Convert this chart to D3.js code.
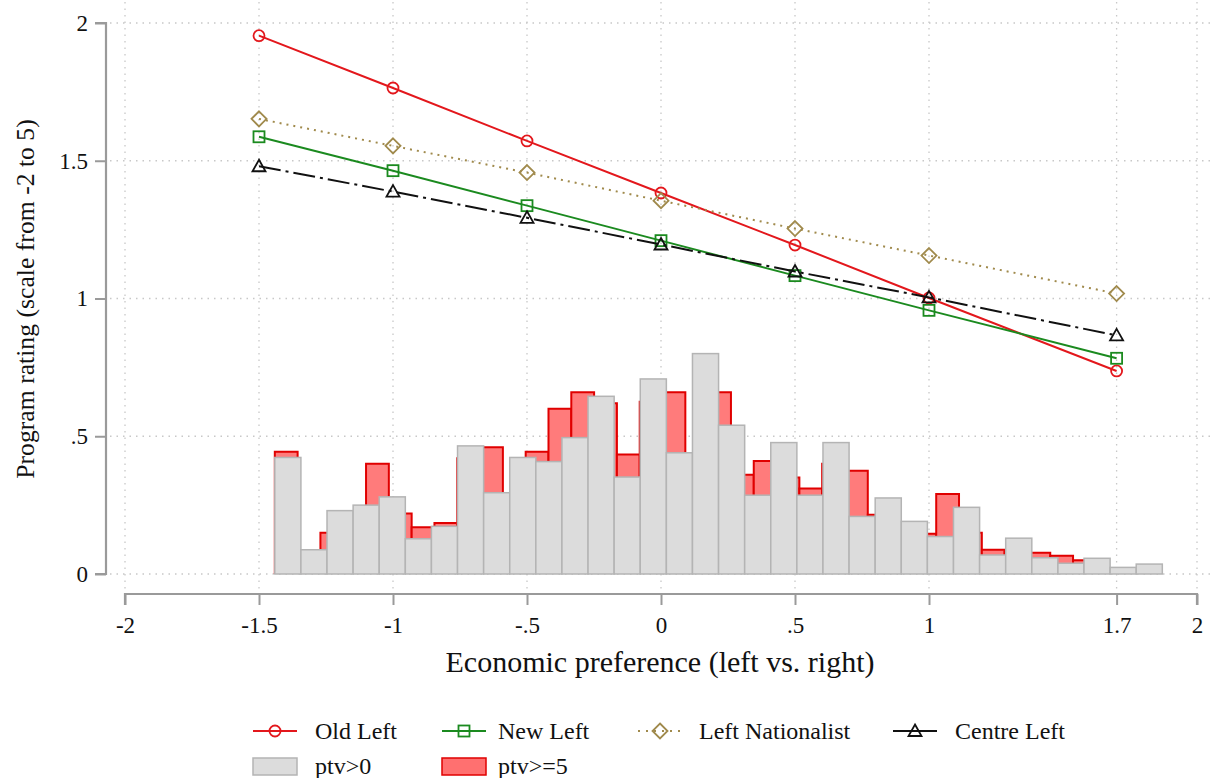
<!DOCTYPE html>
<html>
<head>
<meta charset="utf-8">
<script src="https://cdn.jsdelivr.net/npm/d3@7"></script>
<style>
  body { margin: 0; background: #fff; }
  svg text { font-family: "Liberation Serif", "Times New Roman", serif; fill: #111; }
</style>
</head>
<body>
<svg id="chart" width="1213" height="778"></svg>
<script>
// economic preference points where the lines are evaluated
var xPoints = [-1.5, -1, -0.5, 0, 0.5, 1, 1.7];
var oldLeft = [1.954, 1.764, 1.572, 1.383, 1.194, 1.002, 0.737];
var newLeft = [1.587, 1.464, 1.337, 1.210, 1.083, 0.957, 0.783];
var leftNationalist = [1.652, 1.554, 1.457, 1.355, 1.254, 1.156, 1.018];
var centreLeft = [1.480, 1.388, 1.293, 1.196, 1.098, 1.004, 0.866];

// histogram ptv>0 (density)
var grayStart = -1.441, grayWidth = 0.0974;
var grayDensity = [0.423, 0.088, 0.23, 0.25, 0.28, 0.128, 0.173, 0.465, 0.295, 0.423,
    0.408, 0.495, 0.645, 0.352, 0.708, 0.44, 0.80, 0.54, 0.286, 0.477,
    0.286, 0.477, 0.209, 0.276, 0.191, 0.136, 0.242, 0.069, 0.13, 0.059,
    0.039, 0.057, 0.024, 0.036];

// histogram ptv>=5 (density)
var redStart = -1.441, redWidth = 0.0851;
var redDensity = [0.444, 0.07, 0.15, 0.2, 0.40, 0.22, 0.17, 0.185, 0.42, 0.46,
    0.28, 0.444, 0.60, 0.66, 0.62, 0.434, 0.625, 0.66, 0.40, 0.66,
    0.36, 0.41, 0.35, 0.31, 0.40, 0.375, 0.215, 0.17, 0.146, 0.29,
    0.15, 0.088, 0.08, 0.077, 0.066, 0.05];

var xTicks = [-2, -1.5, -1, -0.5, 0, 0.5, 1, 1.7, 2];
var xTickLabels = ['-2', '-1.5', '-1', '-.5', '0', '.5', '1', '1.7', '2'];
var yTicks = [0, 0.5, 1, 1.5, 2];
var yTickLabels = ['0', '.5', '1', '1.5', '2'];

var series = [
    {name: 'Old Left', values: oldLeft, color: '#e3171c', dash: null, legendDash: null, marker: 'circle'},
    {name: 'New Left', values: newLeft, color: '#1b8a1f', dash: null, legendDash: null, marker: 'square'},
    {name: 'Left Nationalist', values: leftNationalist, color: '#a08a4c', dash: '2,5', legendDash: '2,6', marker: 'diamond'},
    {name: 'Centre Left', values: centreLeft, color: '#111111', dash: '22,5,3,5', legendDash: null, marker: 'triangle'}
];

(function (d3) {
    'use strict';

    var svg = d3.select('#chart');
    var x = d3.scaleLinear().domain([-2, 2]).range([125, 1197]);
    var y = d3.scaleLinear().domain([0, 2]).range([574, 23]);

    svg.append('rect').attr('width', 1213).attr('height', 778).attr('fill', '#fff');

    // grid
    var grid = svg.append('g').attr('stroke', '#c8c8c8').attr('stroke-width', 1.3)
        .attr('stroke-dasharray', '1.5,5');
    grid.selectAll('.vg').data(xTicks).enter().append('line')
        .attr('x1', function (d) { return x(d); }).attr('x2', function (d) { return x(d); })
        .attr('y1', 2).attr('y2', 590);
    grid.selectAll('.hg').data(yTicks).enter().append('line')
        .attr('x1', 110).attr('x2', 1211)
        .attr('y1', function (d) { return y(d); }).attr('y2', function (d) { return y(d); });

    // open-bottom bar outline, so the red stroke does not show on the baseline
    function barPath(x0, x1, v) {
        return 'M' + x0 + ',' + y(0) + 'V' + y(v) + 'H' + x1 + 'V' + y(0);
    }

    // histograms, ptv>=5 behind ptv>0
    svg.append('g').selectAll('path').data(redDensity).enter().append('path')
        .attr('d', function (d, i) {
            return barPath(x(redStart + i * redWidth), x(redStart + (i + 1) * redWidth), d);
        })
        .attr('fill', '#ff7b7b').attr('stroke', '#e00000').attr('stroke-width', 2);

    svg.append('g').selectAll('rect').data(grayDensity).enter().append('rect')
        .attr('x', function (d, i) { return x(grayStart + i * grayWidth); })
        .attr('width', x(grayWidth) - x(0))
        .attr('y', function (d) { return y(d); })
        .attr('height', function (d) { return y(0) - y(d); })
        .attr('fill', '#dcdcdc').attr('stroke', '#b4b4b4').attr('stroke-width', 1.5);

    // markers
    function drawMarker(g, type, color) {
        if (type === 'circle') {
            g.append('circle').attr('r', 5.5);
        } else if (type === 'square') {
            g.append('rect').attr('x', -5.5).attr('y', -5.5).attr('width', 11).attr('height', 11);
        } else if (type === 'diamond') {
            g.append('path').attr('d', 'M0,-7.5L7.5,0L0,7.5L-7.5,0Z');
        } else {
            g.append('path').attr('d', 'M0,-6.5L6.5,5L-6.5,5Z');
        }
        g.selectAll('*').attr('fill', '#fff').attr('fill-opacity', 0)
            .attr('stroke', color).attr('stroke-width', 1.8);
    }

    var line = d3.line()
        .x(function (d) { return x(d[0]); })
        .y(function (d) { return y(d[1]); });

    series.forEach(function (s) {
        var pts = xPoints.map(function (v, i) { return [v, s.values[i]]; });
        svg.append('path').datum(pts)
            .attr('d', line).attr('fill', 'none')
            .attr('stroke', s.color).attr('stroke-width', 2)
            .attr('stroke-dasharray', s.dash);
        pts.forEach(function (p) {
            var g = svg.append('g').attr('transform', 'translate(' + x(p[0]) + ',' + y(p[1]) + ')');
            drawMarker(g, s.marker, s.color);
        });
    });

    // axes
    var yAxis = d3.axisLeft(y).tickValues(yTicks).tickSize(11).tickPadding(7)
        .tickFormat(function (d, i) { return yTickLabels[i]; });
    var gy = svg.append('g').attr('transform', 'translate(106,0)').call(yAxis);
    var xAxis = d3.axisBottom(x).tickValues(xTicks).tickSize(11).tickPadding(12)
        .tickFormat(function (d, i) { return xTickLabels[i]; });
    var gx = svg.append('g').attr('transform', 'translate(0,594)').call(xAxis);

    [gx, gy].forEach(function (g) {
        g.select('.domain').attr('stroke', '#9a9a9a').attr('stroke-width', 2.2);
        g.selectAll('.tick line').attr('stroke', '#9a9a9a').attr('stroke-width', 2);
        g.selectAll('.tick text').attr('font-size', 23).attr('fill', '#111')
            .style('font-family', '"Liberation Serif", serif');
    });
    gx.select('.domain').attr('d', 'M125,11V0H1197V11');
    gy.select('.domain').attr('d', 'M-11,23H0V574H-11');

    // axis titles
    svg.append('text').attr('x', 660).attr('y', 672).attr('text-anchor', 'middle')
        .attr('font-size', 30).text('Economic preference (left vs. right)');
    svg.append('text').attr('transform', 'translate(34,299) rotate(-90)')
        .attr('text-anchor', 'middle').attr('font-size', 25.7)
        .text('Program rating (scale from -2 to 5)');

    // legend
    var legendCenters = [275, 464, 660, 915];
    var legendText = [315, 498, 699, 955];
    series.forEach(function (s, i) {
        var cx = legendCenters[i];
        svg.append('line').attr('x1', cx - 22).attr('x2', cx + 22)
            .attr('y1', 731).attr('y2', 731)
            .attr('stroke', s.color).attr('stroke-width', 2)
            .attr('stroke-dasharray', s.legendDash);
        var g = svg.append('g').attr('transform', 'translate(' + cx + ',731)');
        drawMarker(g, s.marker, s.color);
        svg.append('text').attr('x', legendText[i]).attr('y', 739)
            .attr('font-size', 24).text(s.name);
    });
    var bars = [
        {name: 'ptv>0', fill: '#dcdcdc', stroke: '#b4b4b4'},
        {name: 'ptv>=5', fill: '#ff7070', stroke: '#e00000'}
    ];
    bars.forEach(function (b, i) {
        svg.append('rect').attr('x', legendCenters[i] - 22).attr('y', 758)
            .attr('width', 44).attr('height', 17)
            .attr('fill', b.fill).attr('stroke', b.stroke).attr('stroke-width', 1.5);
        svg.append('text').attr('x', legendText[i]).attr('y', 774)
            .attr('font-size', 24).text(b.name);
    });
}(window.d3));
</script>
</body>
</html>
